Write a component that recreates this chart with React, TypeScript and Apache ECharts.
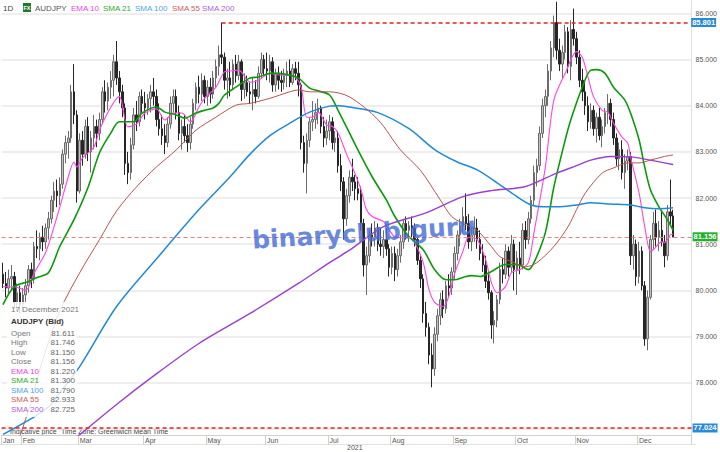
import React, { useEffect, useRef } from "react";
import * as echarts from "echarts";

// ---------- DATA ----------
// Daily AUDJPY candles, [open, high, low, close], one row per weekday from 21 Jan 2021
const candlesJan = [
  [80.35, 80.6, 80.05, 80.15], [80.15, 80.4, 79.85, 80.05], [80.05, 80.45, 79.9, 80.25],
  [80.25, 80.55, 80.0, 80.3], [80.3, 80.4, 79.6, 79.75], [79.75, 80.15, 79.55, 79.95],
  [79.95, 80.1, 79.5, 79.7],
];
const candlesFeb = [
  [79.7, 80.05, 79.55, 79.9], [79.9, 80.25, 79.75, 80.1], [80.1, 80.55, 79.95, 80.45],
  [80.45, 80.6, 80.05, 80.25], [80.25, 81.05, 80.15, 80.95], [80.95, 81.3, 80.7, 80.9],
  [80.9, 81.25, 80.65, 81.15], [81.15, 81.4, 80.85, 81.05], [81.05, 81.45, 80.9, 81.35],
  [81.35, 81.7, 81.1, 81.55], [81.55, 82.05, 81.45, 81.95], [81.95, 82.35, 81.7, 82.15],
  [82.15, 82.4, 81.8, 82.05], [82.05, 82.45, 81.85, 82.3], [82.3, 83.05, 82.2, 82.95],
  [82.95, 83.35, 82.75, 83.2], [83.2, 83.45, 82.85, 83.3], [83.3, 84.45, 83.2, 84.3],
  [84.3, 84.9, 83.6, 83.8], [83.8, 83.9, 81.9, 82.15],
];
const candlesMar = [
  [82.15, 83.4, 82.1, 83.25], [83.25, 83.45, 82.7, 82.95], [82.95, 83.7, 82.85, 83.55],
  [83.55, 83.75, 82.8, 83.0], [83.0, 83.45, 82.55, 83.3], [83.3, 83.8, 83.05, 83.55],
  [83.55, 83.7, 83.1, 83.4], [83.4, 83.85, 83.25, 83.7], [83.7, 84.4, 83.6, 84.3],
  [84.3, 84.55, 83.85, 84.1], [84.1, 84.5, 83.9, 84.4], [84.4, 84.75, 84.15, 84.55],
  [84.55, 85.1, 84.2, 84.95], [84.95, 85.4, 84.45, 84.6], [84.6, 84.75, 84.05, 84.3],
  [84.3, 84.45, 83.75, 83.95], [83.95, 84.05, 82.5, 82.75], [82.75, 83.0, 82.3, 82.55],
  [82.55, 83.3, 82.4, 83.15], [83.15, 83.95, 83.05, 83.8], [83.8, 84.1, 83.45, 83.65],
  [83.65, 84.3, 83.55, 84.2], [84.2, 84.35, 83.85, 84.05],
];
const candlesApr = [
  [84.05, 84.3, 83.7, 83.95], [83.95, 84.25, 83.8, 84.15], [84.15, 84.45, 83.85, 84.3],
  [84.3, 84.6, 84.0, 84.2], [84.2, 84.35, 83.55, 83.7], [83.7, 84.05, 83.35, 83.5],
  [83.5, 83.8, 83.15, 83.35], [83.35, 83.6, 82.95, 83.2], [83.2, 83.75, 83.1, 83.6],
  [83.6, 84.2, 83.5, 84.05], [84.05, 84.35, 83.85, 84.2], [84.2, 84.35, 83.7, 83.85],
  [83.85, 84.0, 83.25, 83.4], [83.4, 83.7, 83.05, 83.55], [83.55, 83.8, 83.2, 83.35],
  [83.35, 83.6, 83.0, 83.2], [83.2, 83.75, 83.05, 83.6], [83.6, 84.15, 83.5, 84.05],
  [84.05, 84.5, 83.9, 84.4], [84.4, 84.65, 84.05, 84.25], [84.25, 84.7, 84.1, 84.55],
  [84.55, 84.65, 84.05, 84.2],
];
const candlesMay = [
  [84.2, 84.55, 84.0, 84.4], [84.4, 84.6, 84.05, 84.25], [84.25, 84.75, 84.15, 84.6],
  [84.6, 85.0, 84.4, 84.85], [84.85, 85.3, 84.65, 85.1], [85.1, 85.801, 84.9, 85.05],
  [85.05, 85.15, 84.35, 84.55], [84.55, 84.8, 84.15, 84.6], [84.6, 84.95, 84.2, 84.45],
  [84.45, 85.0, 84.35, 84.9], [84.9, 85.1, 84.5, 84.65], [84.65, 85.1, 84.55, 84.95],
  [84.95, 85.0, 84.1, 84.35], [84.35, 84.7, 84.15, 84.5], [84.5, 84.65, 84.2, 84.3],
  [84.3, 84.5, 84.05, 84.25], [84.25, 84.6, 83.9, 84.35], [84.35, 84.55, 84.05, 84.2],
  [84.2, 84.85, 84.15, 84.7], [84.7, 85.15, 84.6, 85.0], [85.0, 85.1, 84.65, 84.8],
];
const candlesJun = [
  [84.8, 85.15, 84.55, 84.75], [84.75, 85.1, 84.5, 84.95], [84.95, 85.05, 84.3, 84.45],
  [84.45, 84.8, 84.3, 84.7], [84.7, 84.85, 84.35, 84.55], [84.55, 84.75, 84.3, 84.5],
  [84.5, 84.8, 84.35, 84.65], [84.65, 84.95, 84.4, 84.75], [84.75, 85.0, 84.4, 84.5],
  [84.5, 84.9, 84.45, 84.8], [84.8, 84.95, 84.55, 84.7], [84.7, 84.95, 84.2, 84.45],
  [84.45, 84.5, 83.05, 83.2], [83.2, 83.35, 82.55, 82.75], [82.75, 83.4, 82.1, 83.25],
  [83.25, 83.75, 83.1, 83.65], [83.65, 84.1, 83.45, 83.7], [83.7, 84.05, 83.5, 83.85],
  [83.85, 84.15, 83.6, 83.95], [83.95, 84.0, 83.4, 83.55], [83.55, 83.75, 83.1, 83.3],
  [83.3, 83.7, 83.15, 83.45],
];
const candlesJul = [
  [83.45, 83.8, 83.25, 83.65], [83.65, 83.75, 83.05, 83.2], [83.2, 83.45, 83.0, 83.3],
  [83.3, 83.45, 82.55, 82.7], [82.7, 82.95, 82.15, 82.35], [82.35, 82.45, 81.1, 81.55],
  [81.55, 82.2, 81.4, 82.05], [82.05, 82.6, 81.9, 82.45], [82.45, 82.85, 82.15, 82.35],
  [82.35, 82.5, 81.95, 82.2], [82.2, 82.45, 81.95, 82.1], [82.1, 82.25, 81.3, 81.45],
  [81.45, 81.55, 80.3, 80.55], [80.55, 80.95, 79.9, 80.75], [80.75, 81.3, 80.6, 81.2],
  [81.2, 81.45, 80.95, 81.15], [81.15, 81.5, 80.95, 81.35], [81.35, 81.45, 80.85, 81.0],
  [81.0, 81.35, 80.75, 80.95], [80.95, 81.3, 80.7, 81.1], [81.1, 81.35, 80.75, 80.9],
  [80.9, 81.0, 80.3, 80.5],
];
const candlesAug = [
  [80.5, 80.95, 80.35, 80.8], [80.8, 80.95, 80.2, 80.45], [80.45, 80.9, 80.3, 80.75],
  [80.75, 81.2, 80.6, 81.05], [81.05, 81.55, 80.9, 81.45], [81.45, 81.6, 81.1, 81.3],
  [81.3, 81.5, 81.05, 81.4], [81.4, 81.6, 81.15, 81.35], [81.35, 81.45, 80.95, 81.1],
  [81.1, 81.15, 80.55, 80.65], [80.65, 80.75, 80.05, 80.25], [80.25, 80.35, 79.3, 79.5],
  [79.5, 79.75, 79.0, 79.2], [79.2, 79.3, 78.4, 78.6], [78.6, 78.85, 77.9, 78.3],
  [78.3, 79.2, 78.15, 79.05], [79.05, 79.6, 78.9, 79.45], [79.45, 79.95, 79.25, 79.8],
  [79.8, 80.0, 79.4, 79.6], [79.6, 80.2, 79.5, 80.1], [80.1, 80.35, 79.85, 80.05],
  [80.05, 80.5, 79.9, 80.4],
];
const candlesSep = [
  [80.4, 80.95, 80.25, 80.8], [80.8, 81.3, 80.65, 81.2], [81.2, 81.55, 80.95, 81.4],
  [81.4, 81.8, 81.25, 81.6], [81.6, 82.1, 81.3, 81.45], [81.45, 81.65, 80.9, 81.05],
  [81.05, 81.35, 80.85, 81.2], [81.2, 81.6, 81.05, 81.35], [81.35, 81.55, 80.9, 81.1],
  [81.1, 81.3, 80.65, 80.8], [80.8, 81.0, 80.4, 80.55], [80.55, 80.75, 80.05, 80.2],
  [80.2, 80.35, 79.8, 79.95], [79.95, 80.0, 78.95, 79.25], [79.25, 79.55, 78.85, 79.35],
  [79.35, 79.9, 79.2, 79.8], [79.8, 80.6, 79.7, 80.45], [80.45, 80.7, 80.15, 80.35],
  [80.35, 81.0, 80.25, 80.85], [80.85, 80.95, 80.3, 80.5], [80.5, 81.2, 80.4, 81.0],
  [81.0, 81.1, 80.0, 80.45],
];
const candlesOct = [
  [80.45, 80.85, 79.9, 80.7], [80.7, 81.05, 80.35, 80.55], [80.55, 81.45, 80.45, 81.3],
  [81.3, 81.5, 80.9, 81.1], [81.1, 81.7, 81.0, 81.55], [81.55, 82.05, 81.45, 81.95],
  [81.95, 82.7, 81.85, 82.55], [82.55, 82.85, 82.25, 82.7], [82.7, 83.55, 82.6, 83.4],
  [83.4, 84.15, 83.3, 84.0], [84.0, 84.35, 83.75, 84.2], [84.2, 84.9, 84.0, 84.75],
  [84.75, 85.4, 84.55, 85.25], [85.25, 85.95, 85.05, 85.8], [85.8, 86.25, 85.0, 85.2],
  [85.2, 85.45, 84.75, 84.9], [84.9, 85.3, 84.6, 85.15], [85.15, 85.75, 85.0, 85.6],
  [85.6, 85.7, 84.7, 84.85], [84.85, 85.85, 84.55, 85.65], [85.65, 86.1, 85.3, 85.45],
];
const candlesNov = [
  [85.45, 85.6, 84.9, 85.05], [85.05, 85.2, 84.4, 84.55], [84.55, 84.8, 84.1, 84.3],
  [84.3, 84.5, 83.8, 84.0], [84.0, 84.2, 83.45, 83.65], [83.65, 84.05, 83.5, 83.9],
  [83.9, 84.0, 83.35, 83.5], [83.5, 83.85, 83.2, 83.75], [83.75, 83.95, 83.25, 83.35],
  [83.35, 83.7, 83.1, 83.55], [83.55, 83.95, 83.4, 83.85], [83.85, 84.25, 83.6, 84.05],
  [84.05, 84.15, 83.55, 83.7], [83.7, 83.85, 83.15, 83.3], [83.3, 83.4, 82.7, 82.85],
  [82.85, 83.2, 82.6, 83.05], [83.05, 83.25, 82.4, 82.55], [82.55, 82.95, 82.2, 82.8],
  [82.8, 83.05, 82.6, 82.9], [82.9, 83.0, 80.55, 80.75], [80.75, 81.2, 80.45, 81.0],
  [81.0, 81.1, 80.1, 80.3],
];
const candlesDec = [
  [80.3, 81.05, 80.15, 80.85], [80.85, 80.95, 80.0, 80.1], [80.1, 80.2, 78.8, 78.95],
  [78.95, 80.0, 78.7, 79.85], [79.85, 81.2, 79.8, 81.1], [81.1, 81.7, 80.9, 81.45],
  [81.45, 81.75, 80.95, 81.15], [81.15, 81.5, 80.85, 81.3], [81.3, 81.7, 80.95, 81.05],
  [81.05, 81.2, 80.5, 80.75], [80.75, 81.85, 80.65, 81.7], [81.7, 82.4, 81.4, 81.611],
  [81.611, 81.746, 81.15, 81.156],
];

// Indicator readings, [trading-day index, value]
const ema10 = [
  [0, 80.08], [4, 80.08], [8, 80.0], [11, 80.38], [15, 80.82], [18, 81.38], [20, 81.8],
  [23, 82.46], [25, 82.78], [26, 82.67], [28, 82.87], [32, 83.1], [34, 83.47], [38, 83.97],
  [41, 84.2], [44, 83.54], [47, 83.6], [50, 83.84], [54, 83.93], [57, 83.69], [60, 83.84],
  [63, 83.84], [66, 83.65], [69, 83.97], [71, 84.16], [75, 84.4], [78, 84.73], [80, 84.75],
  [83, 84.77], [87, 84.51], [90, 84.55], [94, 84.7], [98, 84.66], [101, 84.66], [103, 84.62],
  [105, 84.4], [107, 83.75], [109, 83.75], [111, 83.86], [114, 83.58], [116, 83.55],
  [118, 83.41], [121, 82.95], [123, 82.67], [126, 82.2], [128, 81.75], [130, 81.6],
  [134, 81.49], [136, 81.31], [138, 81.16], [141, 81.14], [143, 81.16], [145, 81.03],
  [148, 80.6], [150, 80.02], [152, 79.74], [155, 79.65], [157, 79.87], [159, 80.35],
  [162, 80.85], [164, 81.15], [167, 81.1], [170, 80.66], [172, 80.17], [174, 79.95],
  [177, 80.08], [179, 80.38], [182, 80.45], [185, 80.6], [187, 81.25], [191, 82.67],
  [194, 84.12], [198, 84.7], [202, 85.17], [204, 85.05], [206, 84.62], [208, 84.19],
  [211, 83.9], [213, 83.86], [215, 83.62], [218, 83.32], [220, 83.19], [221, 82.89],
  [224, 82.11], [226, 81.38], [228, 80.84], [229, 80.88], [232, 81.05], [233, 81.03],
  [235, 81.2], [236, 81.22],
];
const sma21 = [
  [0, 79.69], [4, 80.08], [9, 80.19], [12, 80.28], [16, 80.38], [20, 80.95], [25, 81.53],
  [30, 82.24], [34, 82.98], [38, 83.41], [41, 83.65], [46, 83.65], [49, 83.84], [54, 83.97],
  [57, 83.86], [61, 83.8], [64, 83.73], [68, 83.84], [71, 83.9], [74, 83.95], [76, 84.05],
  [78, 84.23], [82, 84.4], [87, 84.6], [90, 84.62], [94, 84.7], [97, 84.7], [101, 84.66],
  [104, 84.6], [108, 84.38], [111, 84.32], [115, 84.23], [118, 83.9], [122, 83.41],
  [125, 83.04], [130, 82.46], [135, 81.96], [138, 81.6], [143, 81.16], [148, 80.88],
  [152, 80.45], [156, 80.23], [159, 80.23], [162, 80.28], [165, 80.32], [168, 80.3],
  [172, 80.41], [177, 80.56], [181, 80.56], [185, 80.45], [187, 80.6], [191, 81.25],
  [194, 82.24], [198, 83.26], [200, 83.7], [204, 84.4], [207, 84.77], [209, 84.78],
  [212, 84.7], [215, 84.4], [219, 84.12], [221, 83.84], [224, 83.26], [226, 82.67],
  [228, 82.18], [231, 81.81], [234, 81.53], [236, 81.3],
];
const sma100 = [
  [0, 76.88], [12, 77.3], [17, 77.53], [19, 77.7], [27, 78.35], [40, 79.65], [55, 80.75],
  [69, 81.75], [80, 82.46], [87, 82.95], [94, 83.35], [101, 83.62], [108, 83.86],
  [115, 83.99], [118, 84.0], [122, 83.97], [132, 83.85], [143, 83.5], [152, 83.05],
  [160, 82.78], [167, 82.61], [174, 82.33], [181, 82.03], [186, 81.85], [190, 81.81],
  [195, 81.81], [202, 81.85], [207, 81.9], [214, 81.87], [221, 81.85], [226, 81.79],
  [231, 81.77], [236, 81.79],
];
const sma55 = [
  [6, 76.85], [10, 77.6], [13, 78.3], [20, 79.55], [27, 80.38], [34, 81.1], [40, 81.72],
  [47, 82.24], [54, 82.67], [61, 83.04], [68, 83.47], [75, 83.75], [82, 84.01], [87, 84.05],
  [94, 84.16], [101, 84.3], [104, 84.34], [108, 84.3], [115, 84.3], [122, 84.19],
  [132, 83.7], [140, 83.04], [147, 82.6], [154, 81.96], [158, 81.6], [162, 81.45],
  [167, 81.3], [172, 80.95], [175, 80.73], [180, 80.6], [184, 80.51], [188, 80.6],
  [194, 80.95], [199, 81.38], [202, 81.75], [205, 82.1], [211, 82.54], [215, 82.65],
  [220, 82.76], [224, 82.76], [228, 82.82], [233, 82.9], [236, 82.933],
];
const sma200 = [
  [24, 76.72], [40, 77.53], [52, 78.1], [69, 78.85], [87, 79.5], [104, 80.15], [115, 80.6],
  [122, 80.87], [134, 81.38], [149, 81.68], [162, 82.03], [172, 82.16], [184, 82.25],
  [195, 82.54], [202, 82.7], [207, 82.82], [214, 82.9], [221, 82.89], [228, 82.82],
  [236, 82.725],
];

const maNames = ["EMA 10", "SMA 21", "SMA 100", "SMA 55", "SMA 200"];
const maLegendColors = ["#ee3fe6", "#2aae2a", "#4aa6e6", "#c8605c", "#b060d8"];
const maLineColors = ["#ff44e4", "#0a9a0a", "#1f8ad8", "#b8544c", "#9a3fd0"];
const maWidths = [1.1, 1.6, 1.5, 1.0, 1.4];

const yearHigh = 85.801; // red dashed level from the May high
const yearLow = 77.024;
const lastPrice = 81.156;
const highDayIndex = 77; // 10 May 2021

const firstDay = "2021-01-21";
const padDays = 6;
const monthNames = ["Jan", "Feb", "Mar", "Apr", "May", "Jun", "Jul", "Aug", "Sep", "Oct", "Nov", "Dec"];
const monthLong = ["January", "February", "March", "April", "May", "June", "July", "August", "September", "October", "November", "December"];

const FONT = "'Liberation Sans', Arial, sans-serif";

export default function App() {
  const ref = useRef<HTMLDivElement>(null);

  useEffect(() => {
    if (!ref.current) return;
    const chart = echarts.init(ref.current, undefined, { renderer: "svg" });

    const candles = [
      ...candlesJan, ...candlesFeb, ...candlesMar, ...candlesApr, ...candlesMay, ...candlesJun,
      ...candlesJul, ...candlesAug, ...candlesSep, ...candlesOct, ...candlesNov, ...candlesDec,
    ];
    // weekday calendar
    const cats: string[] = [];
    const start = new Date(firstDay + "T00:00:00Z");
    for (let d = new Date(start); cats.length < candles.length + padDays; d.setUTCDate(d.getUTCDate() + 1)) {
      const wd = d.getUTCDay();
      if (wd === 0 || wd === 6) continue;
      cats.push(d.toISOString().slice(0, 10));
    }
    const monthOf = (s: string) => Number(s.slice(5, 7)) - 1;
    const isMonthStart = (i: number) => i === 0 || monthOf(cats[i]) !== monthOf(cats[i - 1]);

    const lastCandle = candles[candles.length - 1];
    const lastDate = cats[candles.length - 1];
    const mas = [ema10, sma21, sma100, sma55, sma200];

    const tag = (bg: string, v: number) => ({
      show: true,
      position: "end",
      distance: 1,
      formatter: v.toFixed(3),
      backgroundColor: bg,
      color: "#fff",
      fontSize: 7.5,
      fontWeight: "bold",
      fontFamily: FONT,
      padding: [1, 1, 0, 1],
    });

    const lineSeries = mas.map((d, k) => ({
      type: "line",
      name: maNames[k],
      data: d,
      smooth: 0.3,
      symbol: "none",
      showSymbol: false,
      clip: true,
      lineStyle: { color: maLineColors[k], width: maWidths[k] },
      z: 3,
    }));

    // header + info box
    const headerX = [35, 71, 103, 135, 172, 202];
    const header: any[] = [
      { type: "text", left: 3, top: 4, style: { text: "1D", fill: "#444", font: `8px ${FONT}` } },
      { type: "rect", left: 23, top: 3, shape: { width: 8, height: 9 }, style: { fill: "#1f7a2e" } },
      { type: "text", left: 23.5, top: 5, style: { text: "FX", fill: "#fff", font: `bold 5.5px ${FONT}` } },
      { type: "text", left: headerX[0], top: 4, style: { text: "AUDJPY", fill: "#555", font: `8px ${FONT}` } },
      ...maNames.map((n, k) => ({
        type: "text", left: headerX[k + 1], top: 4, style: { text: n, fill: maLegendColors[k], font: `8px ${FONT}` },
      })),
    ];

    const dt = new Date(lastDate + "T00:00:00Z");
    const dateText = `${dt.getUTCDate()} ${monthLong[dt.getUTCMonth()]} ${dt.getUTCFullYear()}`;
    const rowLabels = ["Open", "High", "Low", "Close", ...maNames];
    const rowValues = [
      lastCandle[0], lastCandle[1], lastCandle[2], lastCandle[3],
      ...mas.map((d) => d[d.length - 1][1]),
    ];
    const rowColors = ["#777", "#777", "#777", "#777", ...maLegendColors];
    const infoBox: any[] = [
      { type: "rect", left: 7, top: 302, shape: { width: 70, height: 115 }, style: { fill: "rgba(255,255,255,0.82)" }, z: 50 },
      { type: "text", left: 11, top: 305, z: 51, style: { text: dateText, fill: "#777", font: `8px ${FONT}` } },
      { type: "text", left: 11, top: 317, z: 51, style: { text: "AUDJPY (Bid)", fill: "#333", font: `bold 8px ${FONT}` } },
      ...rowLabels.flatMap((l, k) => [
        { type: "text", left: 11, top: 329 + k * 9.55, z: 51, style: { text: l, fill: rowColors[k], font: `8px ${FONT}` } },
        { type: "text", right: 720 - 75, top: 329 + k * 9.55, z: 51, style: { text: rowValues[k].toFixed(3), fill: "#666", font: `8px ${FONT}` } },
      ]),
    ];

    const footer: any[] = [
      { type: "text", left: 10, top: 428, style: { text: "Indicative price", fill: "#444", font: `7px ${FONT}` } },
      { type: "text", left: 61, top: 428, style: { text: "Time Zone: Greenwich Mean Time", fill: "#444", font: `7px ${FONT}` } },
      { type: "line", shape: { x1: 0, y1: 444.5, x2: 696, y2: 444.5 }, style: { stroke: "#e2e2e2", lineWidth: 1 } },
      { type: "text", left: 347, top: 444, style: { text: dt.getUTCFullYear().toString(), fill: "#555", font: `7px ${FONT}` } },
    ];

    const watermark = {
      type: "text",
      x: 364,
      y: 233,
      rotation: 0.065,
      z: 60,
      style: {
        text: "binaryclub.guru",
        fill: "rgba(70,110,215,0.82)",
        font: `bold 25px 'DejaVu Sans', Verdana, sans-serif`,
        align: "center",
        verticalAlign: "middle",
      },
    };

    chart.setOption({
      animation: false,
      backgroundColor: "#fff",
      textStyle: { fontFamily: FONT },
      grid: { left: 0, right: 24, top: 0, bottom: 17, containLabel: false },
      xAxis: {
        type: "category",
        data: cats,
        boundaryGap: true,
        axisLine: { show: true, lineStyle: { color: "#d0d0d0" } },
        axisTick: {
          show: true,
          interval: (i: number) => isMonthStart(i),
          length: 10,
          lineStyle: { color: "#d0d0d0" },
        },
        axisLabel: {
          show: true,
          interval: (i: number) => isMonthStart(i),
          formatter: (v: string) => monthNames[monthOf(v)],
          align: "left",
          margin: 2,
          fontSize: 7,
          color: "#555",
        },
        splitLine: { show: false },
      },
      yAxis: {
        type: "value",
        position: "right",
        min: 76.868,
        max: 86.288,
        splitNumber: 9,
        scale: true,
        axisLine: { show: true, lineStyle: { color: "#e0e0e0" } },
        axisTick: { show: false },
        axisLabel: {
          fontSize: 7,
          color: "#555",
          margin: 4,
          showMinLabel: false,
          showMaxLabel: false,
          // the lowest gridline's label is covered by the 77.024 price tag
          formatter: (v: number) => (v < 77.5 ? "" : v.toFixed(3)),
        },
        splitLine: { show: true, showMinLine: false, showMaxLine: false, lineStyle: { color: "#e9e9e9", width: 1.5 } },
      },
      series: [
        {
          type: "candlestick",
          data: candles.map(([o, h, l, c]) => [o, c, l, h]),
          barWidth: 2,
          itemStyle: {
            color: "#c2c2c2",
            color0: "#262626",
            borderColor: "#6c6c6c",
            borderColor0: "#262626",
            borderWidth: 1,
          },
          markLine: {
            silent: true,
            symbol: "none",
            animation: false,
            data: [
              {
                yAxis: lastPrice,
                lineStyle: { color: "#ec8080", type: [4, 3], width: 1 },
                label: tag("#23b02b", lastPrice),
              },
              {
                yAxis: yearLow,
                lineStyle: { color: "#e52222", type: [4, 3], width: 1.6 },
                label: tag("#2a8ad8", yearLow),
              },
              [
                {
                  coord: [cats[highDayIndex], yearHigh],
                  lineStyle: { color: "#e52222", type: [4, 3], width: 1.6 },
                  label: tag("#2a8ad8", yearHigh),
                },
                { coord: [cats[cats.length - 1], yearHigh] },
              ],
            ],
          },
          z: 2,
        },
        ...lineSeries,
      ],
      graphic: [...header, ...infoBox, ...footer, watermark],
    });

    return () => chart.dispose();
  }, []);

  return (
    <div
      ref={ref}
      style={{ position: "fixed", left: 0, top: 0, width: 720, height: 452, background: "#fff" }}
    />
  );
}
